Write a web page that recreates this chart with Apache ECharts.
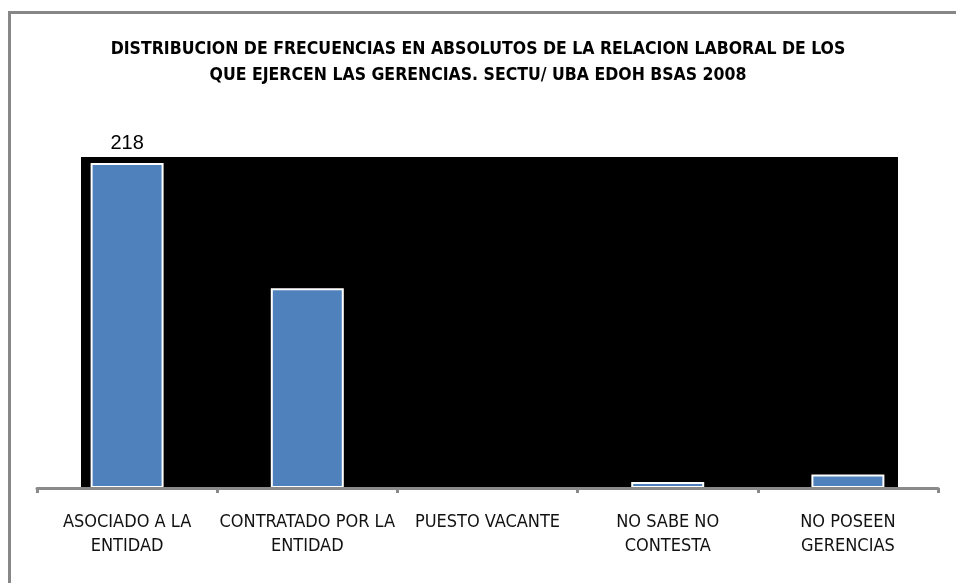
<!DOCTYPE html>
<html>
<head>
<meta charset="utf-8">
<script src="https://cdn.jsdelivr.net/npm/echarts@6/dist/echarts.min.js"></script>
<style>html,body{margin:0;padding:0;background:#fff}#c{width:956px;height:583px}</style>
</head>
<body>
<div id="c"></div>
<script>
var titleLines = ['DISTRIBUCION DE FRECUENCIAS EN ABSOLUTOS DE LA RELACION LABORAL DE LOS', 'QUE EJERCEN LAS GERENCIAS. SECTU/ UBA EDOH BSAS 2008'];
var categories = ['ASOCIADO A LA\nENTIDAD', 'CONTRATADO POR LA\nENTIDAD', 'PUESTO VACANTE', 'NO SABE NO\nCONTESTA', 'NO POSEEN\nGERENCIAS'];
var values = [218, 134, 0, 4, 9];
var labelledIndex = [0];

var FONT = '"DejaVu Sans Condensed", "Liberation Sans Narrow", "Liberation Sans", Arial, sans-serif';
var chart = echarts.init(document.getElementById('c'), null, {renderer: 'canvas'});
chart.setOption({
  backgroundColor: '#ffffff',
  animation: false,
  title: {
    text: titleLines.join('\n'),
    left: 'center',
    top: 31,
    textStyle: {fontFamily: FONT, fontWeight: 'bold', fontSize: 17.5, color: '#000', lineHeight: 26}
  },
  graphic: [{
    type: 'rect', left: 7, top: 10, z: -20, silent: true,
    shape: {width: 1000, height: 700},
    style: {fill: 'none', stroke: '#878787', lineWidth: 3}
  }],
  grid: [
    {left: 37, right: 18, top: 157, bottom: 95, containLabel: false},
    {left: 81, right: 58, top: 157, bottom: 96, show: true, backgroundColor: '#000000', borderWidth: 0, z: 0}
  ],
  xAxis: [
    {
      type: 'category', gridIndex: 0, data: categories,
      axisLine: {lineStyle: {color: '#8a8a8a', width: 3}},
      axisTick: {show: true, length: 5, lineStyle: {color: '#8a8a8a', width: 3}},
      axisLabel: {interval: 0, margin: 22, fontFamily: FONT, fontSize: 18, color: '#111', lineHeight: 24},
      z: 5
    },
    {type: 'category', gridIndex: 1, show: false, data: categories}
  ],
  yAxis: [
    {type: 'value', gridIndex: 0, min: 0, max: 222, show: false, splitLine: {show: false}},
    {type: 'value', gridIndex: 1, min: 0, max: 222, show: false, splitLine: {show: false}}
  ],
  series: [{
    type: 'bar', xAxisIndex: 0, yAxisIndex: 0, z: 3,
    barWidth: 73,
    itemStyle: {color: '#4f81bd', borderColor: '#ffffff', borderWidth: 2},
    data: values.map(function (v, i) {
      return labelledIndex.indexOf(i) >= 0 ? {value: v, label: {show: true}} : v;
    }),
    label: {show: false, position: 'top', distance: 9, fontFamily: '"Liberation Sans", Arial, sans-serif', fontSize: 20, color: '#000'}
  }]
});
</script>
</body>
</html>
